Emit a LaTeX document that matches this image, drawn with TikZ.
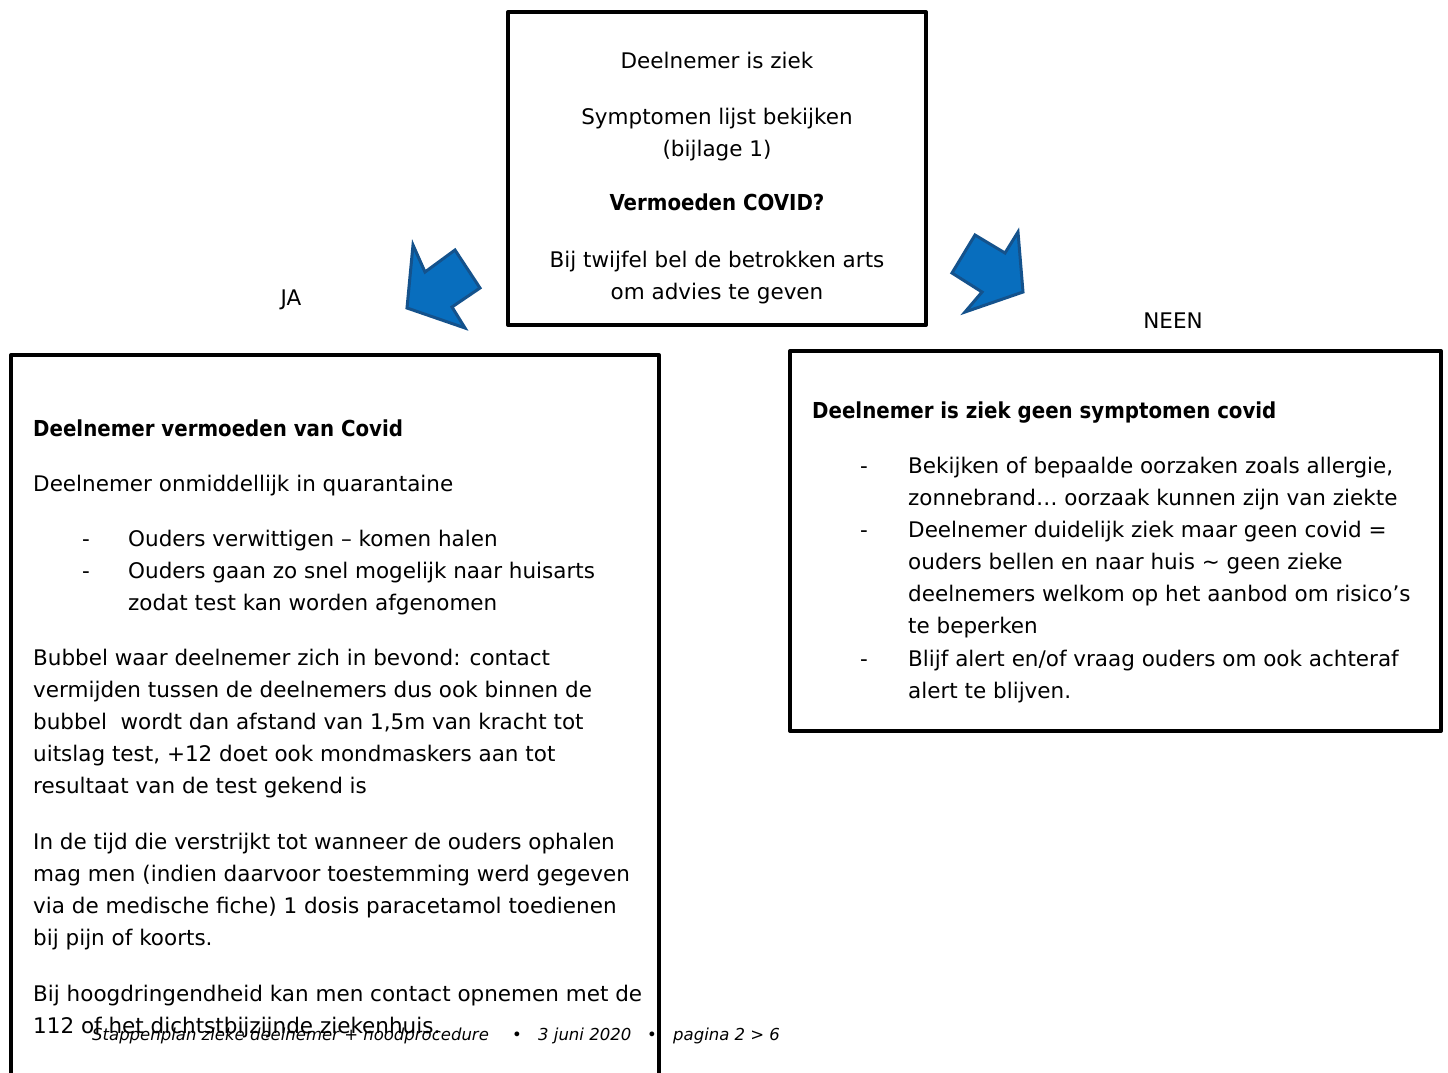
\documentclass[tikz,border=0pt]{standalone}
\usepackage{fontspec}
\setmainfont{DejaVu Sans}
\newfontfamily\condfont{DejaVu Sans Condensed}
\definecolor{arrowfill}{RGB}{8,110,190}
\definecolor{arrowline}{RGB}{20,82,140}
\begin{document}
\begin{tikzpicture}[x=1pt,y=-1pt,
  box/.style={draw=black,line width=4pt,line join=round},
  txt/.style={anchor=base west,inner sep=0pt,font=\fontsize{21.5}{25}\selectfont},
  ctxt/.style={anchor=base,inner sep=0pt,font=\fontsize{21.5}{25}\selectfont},
  btxt/.style={txt,font=\fontsize{22}{25}\selectfont\condfont\bfseries},
  foot/.style={anchor=base west,inner sep=0pt,font=\fontsize{16.5}{20}\selectfont\itshape},
  blockarrow/.style={fill=arrowfill,draw=arrowline,line width=3pt,line join=miter}]
\useasboundingbox (0,0) rectangle (1448,1072);
\fill[white] (0,0) rectangle (1448,1072);
\begin{scope}
\clip (0,0) rectangle (1448,1072);
% boxes
\draw[box] (508,12) rectangle (926,325);
\draw[box] (11,355) rectangle (659,1100);
\draw[box] (790,351) rectangle (1441,731);
\end{scope}
% block arrows
\draw[blockarrow] (413,245) -- (425,272) -- (455,250) -- (480,288) -- (452,307) -- (465,328) -- (407,308) -- cycle;
\draw[blockarrow] (975,235) -- (1005,253) -- (1018,232) -- (1023,292) -- (965,312) -- (982,292) -- (952,273) -- cycle;
% top box text
\node[ctxt] (t1) at (717,68) {Deelnemer is ziek};
\node[ctxt] (t2) at (717,124) {Symptomen lijst bekijken};
\node[ctxt] (t3) at (717,156) {(bijlage 1)};
\node[ctxt,font=\fontsize{22}{25}\selectfont\condfont\bfseries] (t4) at (717,210) {Vermoeden COVID?};
\node[ctxt] (t5) at (717,267) {Bij twijfel bel de betrokken arts};
\node[ctxt] (t6) at (717,299) {om advies te geven};
% labels
\node[ctxt] (ja) at (291,305) {JA};
\node[ctxt] (neen) at (1173,328) {NEEN};
% left box
\node[btxt] (l1) at (33,436) {Deelnemer vermoeden van Covid};
\node[txt] (l2) at (33,491) {Deelnemer onmiddellijk in quarantaine};
\node[txt] (ld1) at (82,546) {-};
\node[txt] (ld2) at (82,578) {-};
\node[txt] (l3) at (128,546) {Ouders verwittigen – komen halen};
\node[txt] (l4) at (128,578) {Ouders gaan zo snel mogelijk naar huisarts};
\node[txt] (l5) at (128,610) {zodat test kan worden afgenomen};
\node[txt] (l6) at (33,665) {Bubbel waar deelnemer zich in bevond: contact};
\node[txt] (l7) at (33,697) {vermijden tussen de deelnemers dus ook binnen de};
\node[txt] (l8) at (33,729) {bubbel\ \ wordt dan afstand van 1,5m van kracht tot};
\node[txt] (l9) at (33,761) {uitslag test, +12 doet ook mondmaskers aan tot};
\node[txt] (l10) at (33,793) {resultaat van de test gekend is};
\node[txt] (l11) at (33,849) {In de tijd die verstrijkt tot wanneer de ouders ophalen};
\node[txt] (l12) at (33,881) {mag men (indien daarvoor toestemming werd gegeven};
\node[txt] (l13) at (33,913) {via de medische fiche) 1 dosis paracetamol toedienen};
\node[txt] (l14) at (33,945) {bij pijn of koorts.};
\node[txt] (l15) at (33,1001) {Bij hoogdringendheid kan men contact opnemen met de};
\node[txt] (l16) at (33,1033) {112 of het dichtstbijzijnde ziekenhuis.};
% right box
\node[btxt] (r1) at (812,418) {Deelnemer is ziek geen symptomen covid};
\node[txt] (rd1) at (860,473) {-};
\node[txt] (rd2) at (860,537) {-};
\node[txt] (rd3) at (860,666) {-};
\node[txt] (r2) at (908,473) {Bekijken of bepaalde oorzaken zoals allergie,};
\node[txt] (r3) at (908,505) {zonnebrand… oorzaak kunnen zijn van ziekte};
\node[txt] (r4) at (908,537) {Deelnemer duidelijk ziek maar geen covid =};
\node[txt] (r5) at (908,569) {ouders bellen en naar huis \textasciitilde{} geen zieke};
\node[txt] (r6) at (908,601) {deelnemers welkom op het aanbod om risico’s};
\node[txt] (r7) at (908,633) {te beperken};
\node[txt] (r8) at (908,666) {Blijf alert en/of vraag ouders om ook achteraf};
\node[txt] (r9) at (908,698) {alert te blijven.};
% footer
\node[foot] (f1) at (92,1040) {Stappenplan zieke deelnemer + noodprocedure};
\node[foot] (f2) at (512,1040) {•};
\node[foot] (f3) at (538,1040) {3 juni 2020};
\node[foot] (f4) at (647,1040) {•};
\node[foot] (f5) at (673,1040) {pagina 2 > 6};
\end{tikzpicture}
\end{document}
